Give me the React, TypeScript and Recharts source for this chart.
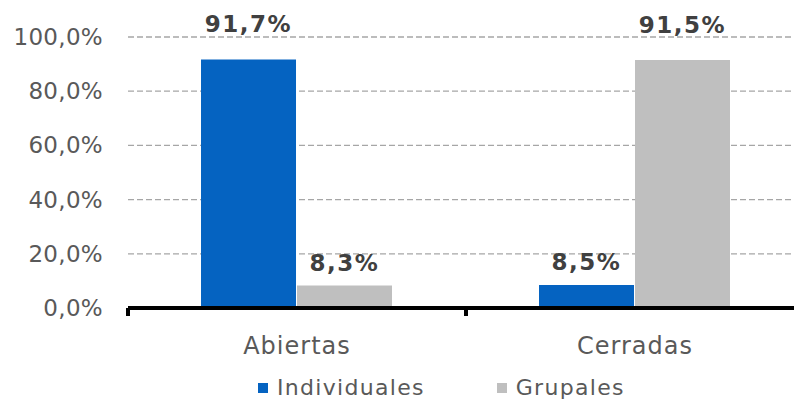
import React from 'react';
import { BarChart, Bar, XAxis, YAxis, CartesianGrid, Legend, LabelList } from 'recharts';

const categories = ['Abiertas', 'Cerradas'];
const individuales = [91.7, 8.5];
const grupales = [8.3, 91.5];
const yTicks = [0, 20, 40, 60, 80, 100];
const seriesNames = ['Individuales', 'Grupales'];

const BLUE = '#0563C1';
const GRAY = '#BFBFBF';
const FONT = '"DejaVu Sans", Verdana, sans-serif';

const data = categories.map((c, i) => ({
  name: c,
  individuales: individuales[i],
  grupales: grupales[i],
}));

const fmt = (v: number) => v.toFixed(1).replace('.', ',') + '%';

const XTick = (props: any) => {
  const { x, y, payload } = props;
  const off = payload.offset || 0;
  return (
    <g>
      <line x1={x - off} x2={x - off} y1={y} y2={y + 8} stroke="#000" strokeWidth={4} />
      <text x={x} y={y + 46} textAnchor="middle" fill="#595959" fontSize={24} letterSpacing={1} fontFamily={FONT}>
        {payload.value}
      </text>
    </g>
  );
};

const YTick = (props: any) => {
  const { x, y, payload } = props;
  return (
    <text x={x} y={y + 8} textAnchor="end" fill="#595959" fontSize={23} letterSpacing={0.3} fontFamily={FONT}>
      {fmt(payload.value)}
    </text>
  );
};

const renderLabel = (props: any) => {
  const { x, y, width, value } = props;
  const off = value > 50 ? 27 : 15;
  return (
    <text x={x + width / 2} y={y - off} textAnchor="middle" fill="#404040" fontSize={23} fontWeight="bold" letterSpacing={1.5} fontFamily={FONT}>
      {fmt(value)}
    </text>
  );
};

const LegendContent = () => (
  <div style={{ display: 'flex', alignItems: 'center', fontFamily: FONT, fontSize: 22, color: '#595959', letterSpacing: 1.3, whiteSpace: 'nowrap' }}>
    {seriesNames.map((n, i) => (
      <span key={n} style={{ display: 'inline-flex', alignItems: 'center', marginRight: i === 0 ? 72 : 0 }}>
        <span style={{ display: 'inline-block', width: 10, height: 10, background: i === 0 ? BLUE : GRAY, marginRight: 9 }} />
        {n}
      </span>
    ))}
  </div>
);

export default function App() {
  return (
    <div style={{ position: 'absolute', left: 0, top: 0, width: 794, height: 403, overflow: 'hidden', background: '#fff' }}>
      <BarChart
        width={810}
        height={403}
        data={data}
        margin={{ top: 37, right: 6, bottom: 35, left: 0 }}
        barCategoryGap="21.6%"
        barGap={1}
      >
        <CartesianGrid vertical={false} stroke="#A6A6A6" strokeDasharray="6 3" strokeWidth={1.3} />
        <YAxis
          domain={[0, 100]}
          ticks={yTicks}
          width={128}
          axisLine={false}
          tickLine={false}
          tickSize={0}
          tickMargin={25}
          tick={<YTick />}
          interval={0}
        />
        <XAxis
          dataKey="name"
          height={60}
          axisLine={{ stroke: '#000', strokeWidth: 4 }}
          tickLine={false}
          tickSize={0}
          tickMargin={0}
          tick={<XTick />}
          interval={0}
        />
        <Legend
          verticalAlign="middle"
          align="center"
          layout="horizontal"
          content={<LegendContent />}
          wrapperStyle={{ top: 375, left: 258, width: 400 }}
        />
        <Bar dataKey="individuales" name={seriesNames[0]} fill={BLUE} isAnimationActive={false}>
          <LabelList dataKey="individuales" content={renderLabel} />
        </Bar>
        <Bar dataKey="grupales" name={seriesNames[1]} fill={GRAY} isAnimationActive={false}>
          <LabelList dataKey="grupales" content={renderLabel} />
        </Bar>
      </BarChart>
    </div>
  );
}
